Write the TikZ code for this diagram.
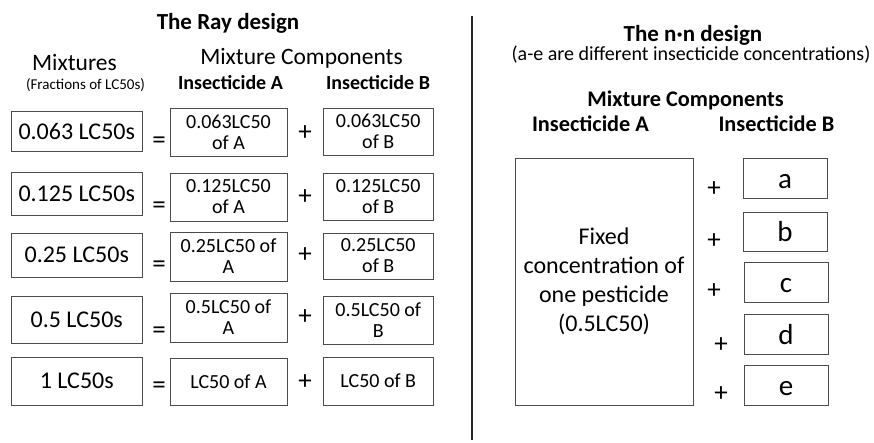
\documentclass[tikz,border=0pt]{standalone}
\usepackage{fontspec}
\setmainfont{Carlito}
\begin{document}
\begin{tikzpicture}[x=1pt,y=-1pt,
  box/.style={draw=black!70, line width=0.8pt, inner sep=0pt, anchor=center},
  twoline/.style={align=center},
  bigtxt/.style={font=\fontsize{24}{29}\selectfont},
  midtxt/.style={font=\fontsize{20}{21}\selectfont},
  lettertxt/.style={font=\fontsize{29}{32}\selectfont, text height=20pt, text depth=0pt},
  sign/.style={font=\fontsize{27}{29}\selectfont, inner sep=0pt, anchor=center},
  head/.style={font=\bfseries\fontsize{23}{28}\selectfont, anchor=base, inner sep=0pt},
  subhead/.style={font=\bfseries\fontsize{20}{24}\selectfont, anchor=base, inner sep=0pt},
  rsubhead/.style={font=\bfseries\fontsize{22.3}{24}\selectfont, anchor=base, inner sep=0pt},
  plainhead/.style={font=\fontsize{23.5}{28}\selectfont, anchor=base, inner sep=0pt}]
\useasboundingbox (0,0) rectangle (874,442);

% ---------------- left panel: the Ray design ----------------
\node[head] (raytitle) at (228,29) {The Ray design};
\node[plainhead] (mixhead) at (74.5,70) {Mixtures};
\node[font=\fontsize{15}{18}\selectfont, anchor=base, inner sep=0pt] (frac) at (85.5,89) {(Fractions of LC50s)};
\node[plainhead] (comphead) at (301.5,64) {Mixture Components};
\node[subhead] (insA) at (230.5,89) {Insecticide A};
\node[subhead] (insB) at (378,89) {Insecticide B};

% mixture boxes
\node[box, bigtxt, minimum width=131.5pt, minimum height=40pt] (m1) at (76.75,131) {0.063 LC50s};
\node[box, bigtxt, minimum width=131.5pt, minimum height=43pt] (m2) at (76.75,193.5) {0.125 LC50s};
\node[box, bigtxt, minimum width=131.5pt, minimum height=44pt] (m3) at (76.75,255) {0.25 LC50s};
\node[box, bigtxt, minimum width=131.5pt, minimum height=47pt] (m4) at (76.75,319.5) {0.5 LC50s};
\node[box, bigtxt, minimum width=131.5pt, minimum height=48pt] (m5) at (76.75,381) {1 LC50s};

% insecticide A components
\node[box, twoline, midtxt, minimum width=117pt, minimum height=48pt] (a1) at (228.5,132) {0.063LC50\\of A};
\node[box, twoline, midtxt, minimum width=117pt, minimum height=48pt] (a2) at (228.5,197) {0.125LC50\\of A};
\node[box, twoline, midtxt, minimum width=117pt, minimum height=49pt] (a3) at (228.5,256.5) {0.25LC50 of\\A};
\node[box, twoline, midtxt, minimum width=117pt, minimum height=49pt] (a4) at (228.5,317.5) {0.5LC50 of\\A};
\node[box, midtxt, minimum width=117pt, minimum height=47pt] (a5) at (228.5,381.5) {LC50 of A};

% insecticide B components
\node[box, twoline, midtxt, minimum width=110.5pt, minimum height=47pt] (b1) at (378.25,131.5) {0.063LC50\\of B};
\node[box, twoline, midtxt, minimum width=110.5pt, minimum height=47pt] (b2) at (378.25,196.5) {0.125LC50\\of B};
\node[box, twoline, midtxt, minimum width=110.5pt, minimum height=46pt] (b3) at (378.25,256) {0.25LC50\\of B};
\node[box, twoline, midtxt, minimum width=110.5pt, minimum height=48pt] (b4) at (378.25,320) {0.5LC50 of\\B};
\node[box, midtxt, minimum width=110.5pt, minimum height=48pt] (b5) at (378.25,381) {LC50 of B};

% equals and plus signs
\node[sign] (eq1) at (159,143) {=};
\node[sign] (eq2) at (159,208) {=};
\node[sign] (eq3) at (159,267) {=};
\node[sign] (eq4) at (159,333) {=};
\node[sign] (eq5) at (159,388) {=};
\node[sign] (p1) at (305,133) {+};
\node[sign] (p2) at (305,197) {+};
\node[sign] (p3) at (305,255) {+};
\node[sign] (p4) at (305,317) {+};
\node[sign] (p5) at (305,382) {+};

% divider
\coordinate (divtop) at (472,16);
\coordinate (divbot) at (472,440);
\draw[line width=1.2pt, black!85] (divtop) -- (divbot);

% ---------------- right panel: the n.n design ----------------
\node[head] (nntitle) at (693,41) {The n·n design};
\node[font=\fontsize{20}{24}\selectfont, anchor=base, inner sep=0pt] (nnsub) at (691,60) {(a-e are different insecticide concentrations)};
\node[rsubhead] (nncomp) at (685.5,106) {Mixture Components};
\node[rsubhead] (nnA) at (590.5,131) {Insecticide A};
\node[rsubhead] (nnB) at (776.5,131) {Insecticide B};

\node[box, twoline, bigtxt, minimum width=178pt, minimum height=247pt] (fixed) at (604,281.5)
  {Fixed\\concentration of\\one pesticide\\(0.5LC50)};

\node[box, lettertxt, minimum width=84pt, minimum height=40pt] (ca) at (785,178) {a};
\node[box, lettertxt, minimum width=84pt, minimum height=39pt] (cb) at (785,231.5) {b};
\node[box, lettertxt, minimum width=84pt, minimum height=40pt] (cc) at (786,282) {c};
\node[box, lettertxt, minimum width=84pt, minimum height=40pt] (cd) at (786,334) {d};
\node[box, lettertxt, minimum width=84pt, minimum height=40pt] (ce) at (786,385) {e};

\node[sign] (pa) at (714,189) {+};
\node[sign] (pb) at (714,241) {+};
\node[sign] (pc) at (714,291) {+};
\node[sign] (pd) at (721,345) {+};
\node[sign] (pe) at (721,394) {+};
\end{tikzpicture}
\end{document}
